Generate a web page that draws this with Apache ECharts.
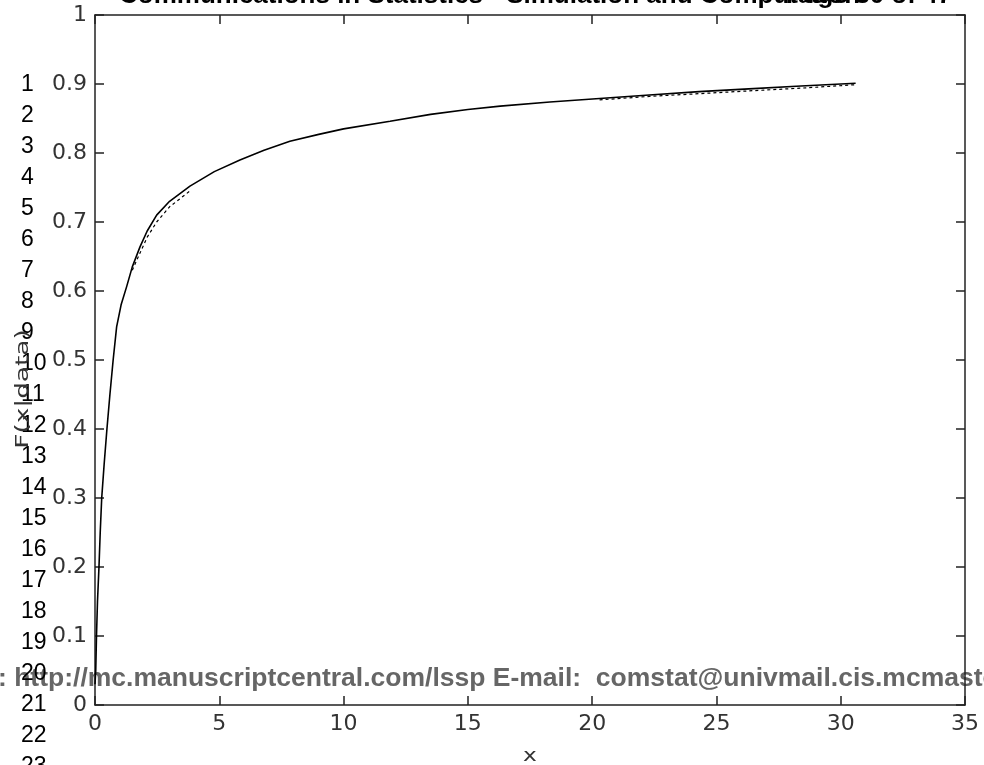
<!DOCTYPE html>
<html>
<head>
<meta charset="utf-8">
<script src="https://cdn.jsdelivr.net/npm/echarts@6/dist/echarts.min.js"></script>
<style>
html,body{margin:0;padding:0;background:#fff;}
#chart{width:984px;height:765px;}
</style>
</head>
<body>
<div id="chart"></div>
<script>
// x values and CDF values
const xMain = [0.0, 0.03, 0.06, 0.1, 0.16, 0.21, 0.27, 0.37, 0.48, 0.6, 0.73, 0.87, 1.05, 1.27, 1.5, 1.81, 2.1, 2.48, 3.0, 3.82, 4.8, 5.83, 6.8, 7.84, 9.0, 10.0, 11.87, 13.5, 15.0, 16.3, 18.3, 20.3, 22.3, 24.3, 26.3, 28.4, 30.6];
const fMain = [0.03, 0.05, 0.1, 0.15, 0.2, 0.25, 0.3, 0.35, 0.4, 0.45, 0.5, 0.548, 0.58, 0.606, 0.635, 0.664, 0.687, 0.71, 0.73, 0.752, 0.773, 0.79, 0.804, 0.817, 0.827, 0.835, 0.846, 0.856, 0.863, 0.868, 0.874, 0.879, 0.884, 0.889, 0.893, 0.897, 0.901];
// second (dotted) trace, two visible pieces
const xAltA = [1.5, 1.81, 2.1, 2.48, 3.0, 3.82];
const fAltA = [0.63, 0.655, 0.678, 0.70, 0.722, 0.745];
const xAltB = [20.3, 22.3, 24.3, 26.3, 28.4, 30.6];
const fAltB = [0.877, 0.882, 0.886, 0.89, 0.894, 0.899];
const xTicks = [0, 5, 10, 15, 20, 25, 30, 35];
const yTicks = [0, 0.1, 0.2, 0.3, 0.4, 0.5, 0.6, 0.7, 0.8, 0.9, 1];
const lineNumbers = ['1','2','3','4','5','6','7','8','9','10','11','12','13','14','15','16','17','18','19','20','21','22','23'];
const titleText = 'Communications in Statistics - Simulation and Computation';
const pageText = 'Page 30 of 47';
const footerText = ': http://mc.manuscriptcentral.com/lssp E-mail:  comstat@univmail.cis.mcmaster.ca';
const yName = 'F(x|data)';
const xName = 'x';

const chart = echarts.init(document.getElementById('chart'), null, {renderer: 'canvas'});
const labelFont = {fontFamily: 'DejaVu Sans, sans-serif', fontSize: 22, color: '#333'};
const axisLine = {show: true, onZero: false, lineStyle: {color: '#222', width: 1.5}};
const tick = {show: true, inside: true, length: 9, lineStyle: {color: '#222', width: 1.5}};

const graphics = [];
graphics.push({type: 'text', x: -2, y: 665, z: -5, silent: true,
  style: {text: footerText, fill: '#666', font: 'bold 26.5px Liberation Sans, Arial, sans-serif'}});
graphics.push({type: 'text', x: 119, y: -17, style: {text: titleText, fill: '#000', font: 'bold 26px Liberation Sans, Arial, sans-serif'}});
graphics.push({type: 'text', x: 952, y: -17, style: {text: pageText, fill: '#000', align: 'right', font: 'bold 26px Liberation Sans, Arial, sans-serif'}});
lineNumbers.forEach((t, i) => {
  graphics.push({type: 'text', x: 21, y: 85 + i * 31, style: {text: t, fill: '#000', font: '23px Liberation Sans, Arial, sans-serif', verticalAlign: 'middle'}});
});
graphics.push({type: 'text', x: 24, y: 389, rotation: Math.PI / 2, scaleX: 1.55,
  style: {text: yName, fill: '#333', font: '17px DejaVu Sans, sans-serif', align: 'center', verticalAlign: 'middle'}});
graphics.push({type: 'text', x: 530, y: 756, scaleX: 1.3,
  style: {text: xName, fill: '#333', font: '18px DejaVu Sans, sans-serif', align: 'center', verticalAlign: 'middle'}});

chart.setOption({
  animation: false,
  backgroundColor: '#fff',
  grid: {left: 95, right: 19, top: 15, bottom: 60, show: false},
  graphic: graphics,
  xAxis: [
    {type: 'value', position: 'bottom', min: xTicks[0], max: xTicks[xTicks.length - 1], interval: 5,
     axisLine: axisLine, axisTick: tick, splitLine: {show: false},
     axisLabel: Object.assign({margin: 8}, labelFont)},
    {type: 'value', position: 'top', min: xTicks[0], max: xTicks[xTicks.length - 1], interval: 5,
     axisLine: axisLine, axisTick: tick, splitLine: {show: false}, axisLabel: {show: false}}
  ],
  yAxis: [
    {type: 'value', position: 'left', min: yTicks[0], max: yTicks[yTicks.length - 1], interval: 0.1,
     axisLine: axisLine, axisTick: tick, splitLine: {show: false},
     axisLabel: Object.assign({margin: 8}, labelFont)},
    {type: 'value', position: 'right', min: yTicks[0], max: yTicks[yTicks.length - 1], interval: 0.1,
     axisLine: axisLine, axisTick: tick, splitLine: {show: false}, axisLabel: {show: false}}
  ],
  series: [
    {type: 'line', xAxisIndex: 0, yAxisIndex: 0, showSymbol: false, z: 3,
     data: xMain.map((x, i) => [x, fMain[i]]),
     lineStyle: {color: '#000', width: 1.6}},
    {type: 'line', xAxisIndex: 0, yAxisIndex: 0, showSymbol: false, z: 3,
     data: xAltA.map((x, i) => [x, fAltA[i]]),
     lineStyle: {color: '#000', width: 1.2, type: [3, 3]}},
    {type: 'line', xAxisIndex: 0, yAxisIndex: 0, showSymbol: false, z: 3,
     data: xAltB.map((x, i) => [x, fAltB[i]]),
     lineStyle: {color: '#000', width: 1.2, type: [3, 3]}}
  ]
});
</script>
</body>
</html>
